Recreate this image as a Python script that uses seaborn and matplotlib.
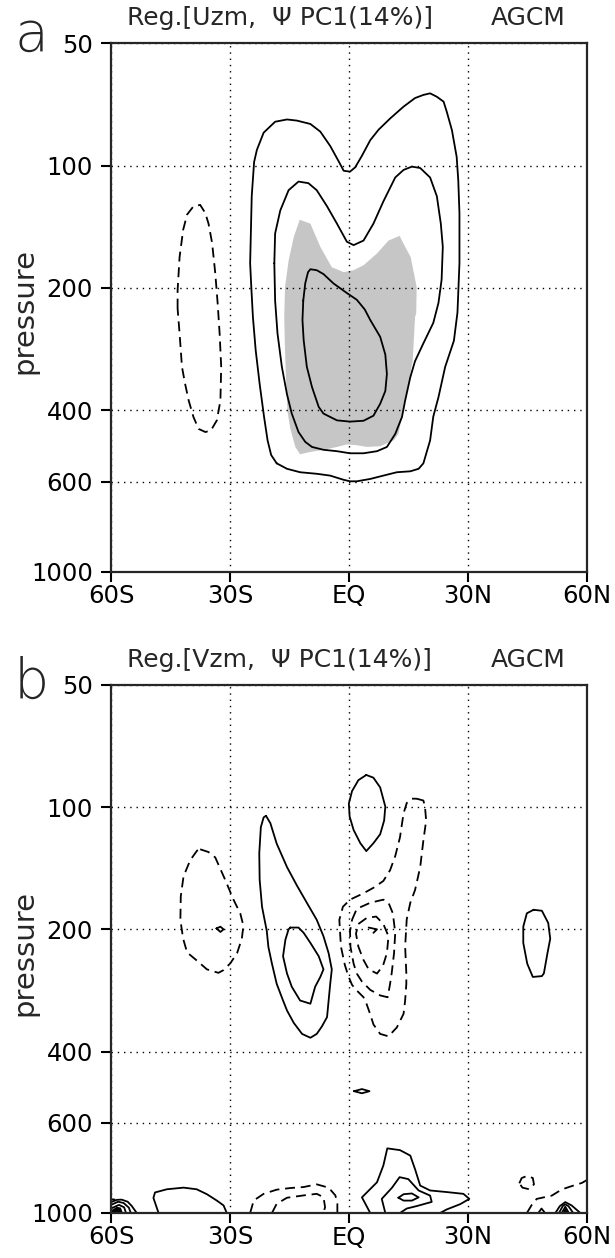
import numpy as np
import matplotlib
matplotlib.use('Agg')
import matplotlib.pyplot as plt
from matplotlib.ticker import NullLocator
import seaborn as sns
import pandas as pd

# ---------------- axis data ----------------
lat_ticks = [-60, -30, 0, 30, 60]
lat_labels = ['60S', '30S', 'EQ', '30N', '60N']
p_ticks = [50, 100, 200, 400, 600, 1000]
p_labels = ['50', '100', '200', '400', '600', '1000']
title_a = 'Reg.[Uzm,  Ψ PC1(14%)]'
title_b = 'Reg.[Vzm,  Ψ PC1(14%)]'
model_name = 'AGCM'

# ---------------- panel a: U regression contours (lat, hPa) ----------------
a_outer_lat = [-18.2, -19.6, -20.5, -21.4, -22.5, -23.5, -24.2, -24.6, -24.9, -24.5, -23.9, -23.2, -21.5, -18.6, -15.6,
               -13.1, -9.7, -7.2, -4.7, -2.6, -1.3, 0.3, 1.6, 3.3, 5.4, 7.5, 10.4, 13.8, 16.7, 18.8, 20.5, 22.2, 23.9,
               24.7, 26.0, 27.2, 27.6, 27.9, 27.9, 27.4, 26.5, 24.3, 22.6, 21.3, 20.5, 18.8, 17.6, 15.5, 12.1, 8.7, 5.4,
               2.0, 0.3, -1.3, -4.7, -8.1, -12.3, -15.6]
a_outer_p = [541, 516, 475, 415, 345, 285, 236, 200, 174, 119, 98, 91.5, 83, 78, 77,
             77.5, 79, 82.5, 89.5, 97.5, 103, 103.5, 101, 94.6, 86.6, 81.6, 76.6, 71.6, 68.2, 67, 66.4, 67.7, 69.6,
             73.7, 81.8, 95.2, 108.6, 131, 174, 230, 270, 313, 372, 415, 475, 541, 558, 566, 569, 580, 591,
             599, 599, 594, 580, 574, 569, 558]

a_mid_lat = [-18.8, -18.6, -17.3, -15.2, -12.7, -10.2, -8.1, -5.5, -3.0, -0.5, 1.2, 3.7, 6.2, 8.7, 11.7, 13.8, 15.9,
             18.0, 20.5, 22.2, 23.2, 23.7, 23.4, 22.6, 21.3, 18.8, 16.7, 15.5, 14.2, 13.4, 11.7, 9.6, 7.1, 3.7, 0.3,
             -3.0, -6.4, -9.3, -11.0, -12.7, -14.4, -15.6, -16.9, -18.0, -18.6]
a_mid_p = [174, 147, 129, 115, 109.5, 110.5, 115, 126, 139, 154, 157, 153, 139, 122.6, 107, 102.5, 100.6,
           101.4, 107, 119, 139, 158.5, 191, 218, 244, 274, 303, 332, 379, 416, 458, 493, 505, 511, 511,
           505, 501, 493, 479, 453, 408, 366, 313, 259, 215]

a_inner_lat = [-11.5, -11.0, -10.3, -9.7, -8.1, -6.4, -3.9, -0.5, 2.0, 4.0, 5.4, 7.9, 9.2, 9.6, 9.2, 7.9, 6.2, 3.7,
               0.3, -3.0, -6.4, -7.6, -9.3, -10.6, -11.4, -11.7]
a_inner_p = [215, 195, 183, 180, 181, 185, 195, 206, 214, 226, 240, 264, 292, 326, 359, 386, 413, 425,
             427, 424, 408, 393, 351, 313, 269, 240]

a_shade_lat = [-16.3, -16.1, -15.2, -13.9, -12.4, -9.7, -7.2, -4.3, -1.3, 1.2, 3.7, 7.1, 10.0, 12.8, 14.2, 15.6, 17.1,
               17.0, 16.7, 16.1, 15.0, 14.2, 13.4, 12.5, 11.3, 7.9, 4.5, 2.0, -0.5, -3.0, -6.4, -9.7, -12.3, -13.5,
               -14.8, -15.5, -15.8, -16.1]
a_shade_p = [236, 199, 171.5, 150, 136, 139, 158.5, 178, 183, 181, 176, 164.6, 153, 149, 158.5, 168, 199,
             231, 236, 303, 345, 379, 416, 458, 475, 491, 493, 488, 486, 493, 501, 507, 514, 493,
             443, 401, 345, 285]

a_neg_lat = [-43.2, -43.2, -42.7, -41.8, -40.8, -39.2, -37.5, -36.2, -35.4, -34.5, -33.7, -33.1, -32.6, -32.2, -32.4,
             -33.3, -34.8, -36.2, -37.9, -39.2, -40.4, -41.3, -42.1, -42.7]
a_neg_p = [225, 203, 168, 144, 132, 126, 125, 131, 139, 155, 184, 218, 259, 313, 379,
           424, 449, 453, 445, 416, 379, 345, 313, 259]

# ---------------- panel b: V regression contours (lat, hPa) ----------------
b_neg1_lat = [-37.5, -35.4, -33.7, -31.2, -29.1, -27.4, -26.6, -27.0, -28.2, -29.9, -31.6, -32.9, -35.8, -38.3, -40.8,
              -41.8, -42.5, -42.4, -41.7, -40.0, -38.3]
b_neg1_p = [127, 129, 133, 151, 169, 182.6, 196, 211, 229, 242.5, 252, 256, 251, 239, 228,
            211, 189.5, 166, 148, 135, 128]

b_dot_lat = [-33.4, -32.4, -31.6, -32.4]
b_dot_p = [199, 197, 200, 203]

b_pos1_lat = [-20.9, -19.8, -18.2, -15.6, -13.1, -10.6, -8.1, -6.4, -5.1, -4.3, -4.7, -5.5, -6.8, -8.1, -9.7, -11.8,
              -13.9, -15.6, -16.6, -18.2, -19.4, -20.3, -20.7, -21.9, -22.5, -22.6, -22.2, -21.5]
b_pos1_p = [105, 109.5, 123, 140.5, 156, 172, 189.5, 208, 229, 251, 272.5, 329, 347, 362, 370, 362,
            340, 317, 299.5, 272.5, 243, 221, 202, 176, 151, 130, 112, 106]

b_pos2_lat = [-14.8, -12.7, -11.4, -9.7, -7.6, -6.4, -7.2, -8.5, -9.7, -12.3, -14.4, -15.6, -16.6, -16.0, -15.2]
b_pos2_p = [198, 198, 204, 216, 233, 251, 262, 277, 305, 299.5, 277, 257, 233, 212, 200]

b_pos3_lat = [4.4, 6.2, 7.9, 9.2, 8.9, 7.9, 6.2, 4.4, 2.9, 1.2, 0.2, 0.0, 0.8, 2.4]
b_pos3_p = [83.3, 84.6, 89.4, 99.7, 107.9, 116.6, 122.7, 128.3, 122.7, 113.8, 105.5, 98, 91.3, 85.8]

b_neg2_lat = [17.1, 18.8, 19.2, 19.5, 18.8, 18.0, 16.7, 15.5, 14.6, 14.2, 14.5, 14.5, 14.2, 13.8, 12.1, 10.0, 7.9,
              6.2, 5.4, 4.5, 3.7, 2.0, 0.8, -0.1, -1.0, -2.0, -2.4, -1.5, 0.3, 3.7, 6.2, 8.7, 10.4, 11.7, 12.9,
              13.8, 14.6, 15.9]
b_neg2_p = [95.3, 96.3, 99.6, 107.9, 120.8, 140.5, 160, 172, 189, 220.6, 256.7, 272.5, 299.5, 323, 349, 367, 362,
            343, 324, 306, 294, 283, 274, 261, 245, 220.6, 189.5, 176, 169, 163, 158, 152, 143, 132, 118.6,
            103.6, 97.7, 95.3]

b_neg3_lat = [0.8, 2.0, 5.4, 8.7, 10.0, 11.1, 11.7, 11.4, 10.8, 10.4, 9.8, 7.9, 5.4, 3.3, 2.0, 1.2, 0.4, 0.3]
b_neg3_p = [189.5, 178, 172, 169, 172, 182.6, 204, 229, 256.7, 272.5, 294, 291, 282, 269, 257, 243, 220.6, 202]

b_neg4_lat = [2.4, 4.5, 6.9, 8.7, 10.0, 9.6, 8.6, 7.1, 5.0, 3.7, 2.4, 1.8]
b_neg4_p = [194, 187.5, 186, 194, 208, 229, 246, 257, 251, 238, 220.6, 205]

b_hook_lat = [5.0, 7.1, 6.2]
b_hook_p = [198, 200, 204]

b_pos4_lat = [46.6, 48.7, 50.3, 50.8, 50.1, 49.2, 48.7, 46.4, 45.0, 44.0, 44.0, 44.9]
b_pos4_p = [179, 180, 193, 211, 229, 256.7, 260.8, 262, 243, 216, 197, 182.6]

b_pos5_lat = [1.3, 3.3, 5.2, 3.3]
b_pos5_p = [501, 495, 501, 507]

b_sfc1_lat = [-48.0, -49.3, -48.9, -45.9, -41.7, -38.4, -35.8, -33.3, -31.6, -30.8]
b_sfc1_p = [1000, 918, 890, 874, 866, 874, 899, 932, 958, 1000]

b_sfc2_lat = [-24.9, -24.0, -21.5, -18.2, -14.8, -11.4, -8.1, -5.1, -3.4, -2.9, -2.9]
b_sfc2_p = [1000, 931.6, 897, 876, 868, 863, 850, 866, 905, 949, 1000]
b_sfc3_lat = [-19.4, -18.2, -15.6, -11.4, -8.1, -6.4, -6.0, -6.4]
b_sfc3_p = [1000, 949, 917, 905, 897, 914, 967, 1000]

b_sfc4_lat = [5.4, 3.3, 7.1, 8.7, 9.7, 12.9, 15.5, 16.7, 18.0, 20.5, 24.7, 28.9, 30.4, 28.1, 24.7, 23.0]
b_sfc4_p = [1000, 915, 840, 764, 693, 700, 722, 780, 856, 880, 888, 897, 923, 951, 980, 1000]
b_sfc5_lat = [9.2, 8.3, 10.9, 12.8, 15.0, 17.6, 20.5, 20.9, 17.2, 14.6, 12.9]
b_sfc5_p = [1000, 923, 866, 816, 825, 880, 906, 939, 961, 975, 1000]
b_sfc6_lat = [12.5, 13.8, 15.9, 17.6, 15.9, 13.8]
b_sfc6_p = [917, 899, 895, 915, 932, 932]

b_sp1_lat = [-60.0, -58.5, -57.3, -55.8, -54.8, -53.5]
b_sp1_p = [940, 928, 927, 938, 960, 1000]
b_sp2_lat = [-60.0, -58.2, -56.8, -55.5, -55.0]
b_sp2_p = [955, 938, 945, 970, 1000]
b_sp3_lat = [-60.0, -58.0, -56.7, -56.2]
b_sp3_p = [975, 955, 968, 1000]
b_spfill_lat = [-60.0, -58.5, -57.5, -57.0, -60.0]
b_spfill_p = [985, 965, 970, 1000, 1000]
b_spneg_lat = [-60.0, -58.9]
b_spneg_p = [925, 927]

b_nring_lat = [43.0, 43.6, 45.0, 46.4, 46.7, 45.5, 43.8]
b_nring_p = [845, 820, 810, 820, 850, 874, 866]
b_nneg_lat = [44.9, 46.2, 47.4, 51.2, 53.7, 56.3, 58.8, 60.0]
b_nneg_p = [1000, 953, 923, 906, 875, 858, 843, 830]
b_np1_lat = [52.1, 53.2, 54.6, 56.2, 58.4]
b_np1_p = [1000, 962, 940, 958, 1000]
b_np2_lat = [53.0, 54.0, 54.6, 55.4, 56.6]
b_np2_p = [1000, 960, 952, 962, 1000]
b_np3_lat = [53.7, 54.6, 55.5]
b_np3_p = [1000, 965, 1000]
b_np4_lat = [54.2, 54.6, 55.0]
b_np4_p = [1000, 980, 1000]
b_np5_lat = [47.8, 48.6, 49.5]
b_np5_p = [1000, 975, 1000]

# ---------------- drawing ----------------
sns.set_style('ticks')
plt.rcParams['font.family'] = ['DejaVu Sans']

W, H = 615, 1258
fig = plt.figure(figsize=(W / 100, H / 100), dpi=100)

LW = 1.3


def draw(ax, lat, p, dashed=False, closed=True):
    lat = list(lat)
    p = list(p)
    if closed:
        lat = lat + lat[:1]
        p = p + p[:1]
    df = pd.DataFrame({'lat': lat, 'p': p})
    sns.lineplot(data=df, x='lat', y='p', sort=False, estimator=None,
                 color='black', lw=LW, ax=ax, zorder=3)
    line = ax.lines[-1]
    line.set_solid_joinstyle('round')
    if dashed:
        line.set_dashes((5.5, 3.2))


def style_axes(ax):
    ax.set_yscale('log')
    ax.set_xlim(-60, 60)
    ax.set_ylim(1000, 50)
    ax.set_xticks(lat_ticks)
    ax.set_xticklabels(lat_labels)
    ax.set_yticks(p_ticks)
    ax.set_yticklabels(p_labels)
    ax.yaxis.set_minor_locator(NullLocator())
    ax.set_xlabel('')
    ax.set_ylabel('')
    ax.grid(True, color='black', linestyle=(0, (1.0, 3.5)), lw=1.0)
    ax.set_axisbelow(True)
    for s in ax.spines.values():
        s.set_linewidth(1.6)
        s.set_visible(True)
        s.set_zorder(5)
    ax.tick_params(axis='both', direction='out', length=7, width=1.5,
                   labelsize=17.5, colors='black')
    ax.tick_params(axis='y', pad=6)
    ax.tick_params(axis='x', pad=2)
    ax.set_facecolor('white')


def px_axes(left, top, right, bottom):
    return [left / W, 1 - bottom / H, (right - left) / W, (bottom - top) / H]


ax_a = fig.add_axes(px_axes(111, 43.3, 586.7, 571.7))
ax_b = fig.add_axes(px_axes(111, 685, 586.7, 1213))

# panel a
ax_a.fill(a_shade_lat, a_shade_p, color='#c6c6c6', lw=0, zorder=0.3)
draw(ax_a, a_outer_lat, a_outer_p)
draw(ax_a, a_mid_lat, a_mid_p)
draw(ax_a, a_inner_lat, a_inner_p)
draw(ax_a, a_neg_lat, a_neg_p, dashed=True)
style_axes(ax_a)

# panel b
draw(ax_b, b_neg1_lat, b_neg1_p, dashed=True)
draw(ax_b, b_dot_lat, b_dot_p)
draw(ax_b, b_pos1_lat, b_pos1_p)
draw(ax_b, b_pos2_lat, b_pos2_p)
draw(ax_b, b_pos3_lat, b_pos3_p)
draw(ax_b, b_neg2_lat, b_neg2_p, dashed=True)
draw(ax_b, b_neg3_lat, b_neg3_p, dashed=True)
draw(ax_b, b_neg4_lat, b_neg4_p, dashed=True)
draw(ax_b, b_hook_lat, b_hook_p, closed=False)
draw(ax_b, b_pos4_lat, b_pos4_p)
draw(ax_b, b_pos5_lat, b_pos5_p)
draw(ax_b, b_sfc1_lat, b_sfc1_p, closed=False)
draw(ax_b, b_sfc2_lat, b_sfc2_p, dashed=True, closed=False)
draw(ax_b, b_sfc3_lat, b_sfc3_p, dashed=True, closed=False)
draw(ax_b, b_sfc4_lat, b_sfc4_p, closed=False)
draw(ax_b, b_sfc5_lat, b_sfc5_p, closed=False)
draw(ax_b, b_sfc6_lat, b_sfc6_p)
draw(ax_b, b_sp1_lat, b_sp1_p, closed=False)
draw(ax_b, b_sp2_lat, b_sp2_p, closed=False)
draw(ax_b, b_sp3_lat, b_sp3_p, closed=False)
ax_b.fill(b_spfill_lat, b_spfill_p, color='black', lw=0, zorder=3)
draw(ax_b, b_spneg_lat, b_spneg_p, dashed=True, closed=False)
draw(ax_b, b_nring_lat, b_nring_p, dashed=True)
draw(ax_b, b_nneg_lat, b_nneg_p, dashed=True, closed=False)
draw(ax_b, b_np1_lat, b_np1_p, closed=False)
draw(ax_b, b_np2_lat, b_np2_p, closed=False)
draw(ax_b, b_np3_lat, b_np3_p, closed=False)
draw(ax_b, b_np4_lat, b_np4_p, closed=False)
draw(ax_b, b_np5_lat, b_np5_p, closed=False)
style_axes(ax_b)

# titles, panel letters, axis labels
for ytop, title, letter in [(18, title_a, 'a'), (660, title_b, 'b')]:
    fig.text(127 / W, 1 - ytop / H, title, ha='left', va='center', fontsize=18)
    fig.text(566 / W, 1 - ytop / H, model_name, ha='right', va='center', fontsize=18)

fig.text(31 / W, 1 - 36 / H, 'a', ha='center', va='center', fontsize=40, fontweight='light')
fig.text(31 / W, 1 - 683 / H, 'b', ha='center', va='center', fontsize=40, fontweight='light')

fig.text(24 / W, 1 - 311 / H, 'pressure', rotation=90, ha='center', va='center', fontsize=21)
fig.text(24 / W, 1 - 953 / H, 'pressure', rotation=90, ha='center', va='center', fontsize=21)

fig.savefig('out.png', dpi=100)
